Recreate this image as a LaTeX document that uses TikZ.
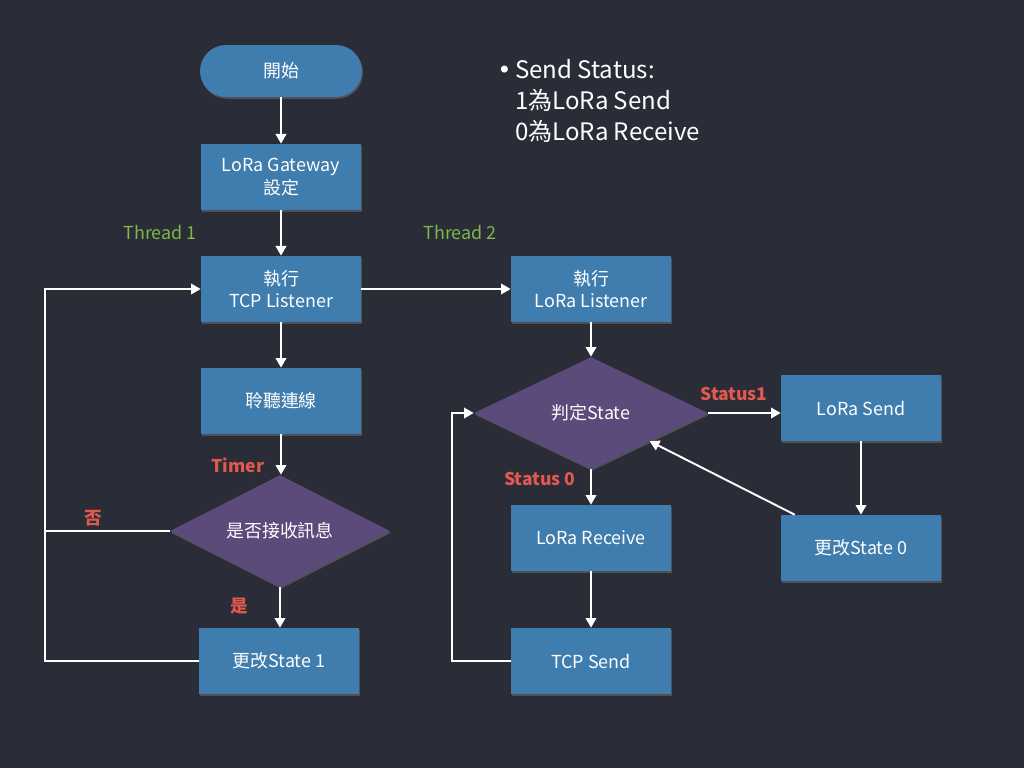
\documentclass[tikz,border=0pt]{standalone}
\usepackage{fontspec}
\setmainfont{Noto Sans CJK TC}
\newfontfamily\symfont{DejaVu Sans}
\usetikzlibrary{shapes.geometric,arrows.meta,shadows}
\definecolor{bg}{HTML}{2A2C37}
\definecolor{boxblue}{HTML}{3F7DAE}
\definecolor{decpurple}{HTML}{5B4A7A}
\definecolor{lblred}{HTML}{E0584E}
\definecolor{thrgreen}{HTML}{7DB84A}
\begin{document}
\begin{tikzpicture}[x=0.02cm,y=-0.02cm]
        \tikzstyle{proc}=[fill=boxblue, text=white, minimum width=3.2cm, minimum height=1.32cm, inner sep=0pt, align=center, font=\fontsize{10.2}{13}\selectfont, drop shadow={shadow xshift=0.6pt, shadow yshift=-1pt, opacity=0.45}]
        \tikzstyle{dec}=[diamond, fill=decpurple, text=white, aspect=2, inner sep=0pt, font=\fontsize{10.2}{13}\selectfont, drop shadow={shadow xshift=0.6pt, shadow yshift=-1pt, opacity=0.45}]
        \tikzstyle{lbl}=[text=lblred, font=\fontsize{10}{12}\selectfont\bfseries]
        \tikzstyle{thr}=[text=thrgreen, font=\fontsize{10.2}{12}\selectfont]
        \tikzstyle{arr}=[draw=white, line width=1.1pt, -{Triangle[length=5.5pt,width=6pt]}]
        \tikzstyle{ln}=[draw=white, line width=1.1pt]

        \useasboundingbox[fill=bg] (0,0) rectangle (1024,768);

        \node (start)  [proc, rounded corners=0.52cm, minimum width=3.24cm, minimum height=1.04cm] at (281,71) {開始};
        \node (gwset)  [proc] at (281,177) {LoRa Gateway\\設定};
        \node (tcplis) [proc] at (281,289) {執行\\TCP Listener};
        \node (lorlis) [proc] at (591,289) {執行\\LoRa Listener};
        \node (listen) [proc] at (281,401) {聆聽連線};
        \node (recvq)  [dec, minimum width=4.4cm, minimum height=2.24cm] at (280,531) {是否接收訊息};
        \node (chg1)   [proc] at (279,661) {更改State 1};
        \node (stq)    [dec, minimum width=4.68cm, minimum height=2.24cm] at (591,413) {判定State};
        \node (lsend)  [proc] at (861,408) {LoRa Send};
        \node (chg0)   [proc] at (861,548) {更改State 0};
        \node (lrecv)  [proc] at (591,538) {LoRa Receive};
        \node (tsend)  [proc] at (591,661) {TCP Send};

        \node (thr1) [thr] at (160,232) {Thread 1};
        \node (thr2) [thr] at (460,232) {Thread 2};
        \node (timer) [lbl] at (238,465) {Timer};
        \node (no)    [lbl] at (93,518) {否};
        \node (yes)   [lbl] at (239,606) {是};
        \node (st1)   [lbl] at (734,394) {Status1};
        \node (st0)   [lbl] at (540,479) {Status 0};

        \node (note) [anchor=north west, align=left, text=white, font=\fontsize{13.7}{17.6}\selectfont, inner sep=0pt] at (497,59)
            {{\symfont •}\hspace{2pt}Send Status:\\ \phantom{{\symfont •}\hspace{2pt}}1為LoRa Send\\ \phantom{{\symfont •}\hspace{2pt}}0為LoRa Receive};

        \coordinate (lft) at (45,661);
        \coordinate (rgt) at (452,661);

        \draw[arr] (start) -- (gwset);
        \draw[arr] (gwset) -- (tcplis);
        \draw[arr] (tcplis) -- (listen);
        \draw[arr] (listen.south) -- (listen.south |- recvq.north);
        \draw[arr] (recvq.south) -- (recvq.south |- chg1.north);
        \draw[arr] (tcplis.east) -- (lorlis.west);
        \draw[arr] (lorlis) -- (stq);
        \draw[arr] (stq.east) -- (stq.east -| lsend.west);
        \draw[arr] (lsend) -- (chg0);
        \draw[arr] ([xshift=0.28cm]chg0.north west) -- (stq.south east);
        \draw[arr] (stq.south) -- (lrecv.north);
        \draw[arr] (lrecv) -- (tsend);
        \draw[arr] (chg1.west) -- (lft) |- (tcplis.west);
        \draw[ln] (recvq.west) -- (recvq.west -| lft);
        \draw[arr] (tsend.west) -- (rgt) |- (stq.west);
    \end{tikzpicture}
\end{document}
